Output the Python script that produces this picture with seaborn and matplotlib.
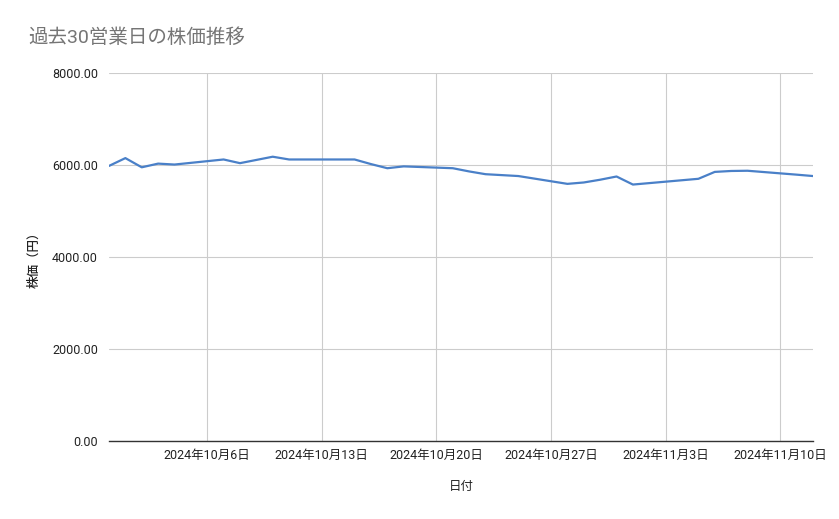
import pandas as pd
import matplotlib.pyplot as plt
import matplotlib.dates as mdates
import seaborn as sns

# 過去30営業日の終値
dates = ['2024-09-30', '2024-10-01', '2024-10-02', '2024-10-03', '2024-10-04',
         '2024-10-07', '2024-10-08', '2024-10-09', '2024-10-10', '2024-10-11',
         '2024-10-15', '2024-10-16', '2024-10-17', '2024-10-18',
         '2024-10-21', '2024-10-22', '2024-10-23', '2024-10-24', '2024-10-25',
         '2024-10-28', '2024-10-29', '2024-10-30', '2024-10-31', '2024-11-01',
         '2024-11-05', '2024-11-06', '2024-11-07', '2024-11-08',
         '2024-11-11', '2024-11-12']
prices = [5980, 6150, 5950, 6030, 6010,
          6120, 6040, 6110, 6180, 6120,
          6120, 6020, 5930, 5970,
          5930, 5860, 5800, 5780, 5760,
          5590, 5620, 5680, 5750, 5575,
          5700, 5850, 5870, 5875,
          5790, 5760]
tick_dates = ['2024-10-06', '2024-10-13', '2024-10-20', '2024-10-27', '2024-11-03', '2024-11-10']
tick_labels = ['2024年10月6日', '2024年10月13日', '2024年10月20日',
               '2024年10月27日', '2024年11月3日', '2024年11月10日']
y_ticks = [0, 2000, 4000, 6000, 8000]

df = pd.DataFrame({'日付': pd.to_datetime(dates), '株価（円）': prices})

sns.set_style('white')
plt.rcParams['font.family'] = ['Roboto', 'Noto Sans CJK JP', 'DejaVu Sans']

fig = plt.figure(figsize=(8.39, 5.19), dpi=100)
ax = fig.add_axes([109 / 839, 1 - 441 / 519, 704 / 839, 368 / 519])

sns.lineplot(data=df, x='日付', y='株価（円）', color='#4a80c8', linewidth=1.6, ax=ax)

ax.set_xlim(pd.Timestamp('2024-09-30'), pd.Timestamp('2024-11-12'))
ax.set_ylim(0, 8000)
ax.set_yticks(y_ticks)
ax.set_yticklabels([f'{v:.2f}' for v in y_ticks])
ax.set_xticks(pd.to_datetime(tick_dates))
ax.set_xticklabels(tick_labels)

ax.grid(True, color='#cccccc', linewidth=0.8)
ax.set_axisbelow(True)
for s in ['left', 'right', 'top']:
    ax.spines[s].set_visible(False)
ax.spines['bottom'].set_color('#333333')
ax.spines['bottom'].set_linewidth(1.0)
ax.tick_params(axis='both', length=0, labelsize=9, colors='#222222')
ax.tick_params(axis='y', pad=8)
ax.tick_params(axis='x', pad=6)

ax.set_xlabel('日付', fontsize=9, color='#222222', labelpad=13)
ax.set_ylabel('株価（円）', fontsize=9, color='#222222', labelpad=8, fontweight='medium')

fig.text(28 / 839, 1 - 38 / 519, '過去30営業日の株価推移', fontsize=14,
         color='#757575', va='center', ha='left')

fig.savefig('out.png', dpi=100)
